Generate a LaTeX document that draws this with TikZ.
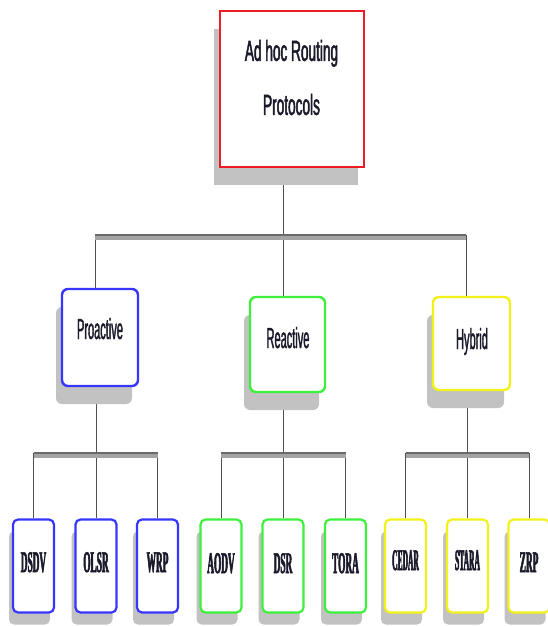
\documentclass[tikz,border=0pt]{standalone}
\usepackage{fontspec}
\usetikzlibrary{shadows}
\newfontfamily\rootfont[FakeStretch=0.47,FakeBold=1.6]{Liberation Sans}
\newfontfamily\midfont[FakeStretch=0.38,FakeBold=1.2]{Liberation Sans}
\newfontfamily\leaffont[FakeStretch=0.31,FakeBold=1.8]{Liberation Serif Bold}
\newfontfamily\leaffontn[FakeStretch=0.25,FakeBold=1.8]{Liberation Serif Bold}
\definecolor{cred}{HTML}{EE1C24}
\definecolor{cblue}{HTML}{3636FF}
\definecolor{cgreen}{HTML}{3CF03C}
\definecolor{cyellow}{HTML}{F2F21A}
\definecolor{shadowgray}{HTML}{C2C2C2}
\definecolor{barlight}{HTML}{A4A4A4}
\definecolor{bardark}{HTML}{6A6A6A}
\definecolor{vlinecol}{HTML}{505050}
\definecolor{txt}{HTML}{1A1A2A}
\pgfdeclarelayer{bg}
\pgfsetlayers{bg,main}
\tikzset{
  rootbox/.style={rectangle, draw=cred, line width=2.4pt, fill=white,
    minimum width=144pt, minimum height=156pt, inner sep=0pt,
    drop shadow={shadow xshift=-6pt, shadow yshift=-18pt, fill=shadowgray, opacity=1}},
  midbox/.style={rectangle, rounded corners=6pt, line width=2.4pt, fill=white,
    minimum height=95pt, inner sep=0pt,
    drop shadow={shadow xshift=-6pt, shadow yshift=-18pt, fill=shadowgray, opacity=1}},
  leafbox/.style={rectangle, rounded corners=5pt, line width=2.2pt, fill=white,
    minimum width=41pt, minimum height=93pt, inner sep=0pt,
    drop shadow={shadow xshift=-4pt, shadow yshift=-12pt, fill=shadowgray, opacity=1}},
  roottext/.style={align=center, text=txt, inner sep=0pt,
    font=\fontsize{29}{54}\selectfont\rootfont},
  midtext/.style={anchor=base, text=txt, inner sep=0pt,
    font=\fontsize{29}{34}\selectfont\midfont},
  leaftext/.style={anchor=base, text=txt, inner sep=0pt,
    font=\fontsize{30}{34}\selectfont\leaffont},
  leaftextn/.style={anchor=base, text=txt, inner sep=0pt,
    font=\fontsize{30}{34}\selectfont\leaffontn},
  bar/.style={draw=bardark, line width=1.2pt,
    preaction={draw=barlight, line width=5pt, transform canvas={yshift=-2.2pt}}},
  vline/.style={draw=vlinecol, line width=1pt}
}
\begin{document}
\begin{tikzpicture}[x=1pt, y=-1pt]
\useasboundingbox (0,0) rectangle (547,626);

% boxes
\node[rootbox] (root) at (292,89) {};
\node[roottext] (rootT) at (291.5,77.5) {Ad hoc Routing\\Protocols};

\node[midbox, draw=cblue, minimum width=76pt, minimum height=97pt] (pro) at (100,337.5) {};
\node[midbox, draw=cgreen, minimum width=75pt] (rea) at (287.5,344.5) {};
\node[midbox, draw=cyellow, minimum width=77pt, minimum height=93pt] (hyb) at (471.5,343.5) {};
\node[midtext] (proT) at (100,339) {Proactive};
\node[midtext] (reaT) at (288,348) {Reactive};
\node[midtext] (hybT) at (472,349) {Hybrid};

\node[leafbox, draw=cblue] (dsdv) at (33.5,566) {};
\node[leafbox, draw=cblue] (olsr) at (96,566) {};
\node[leafbox, draw=cblue] (wrp) at (157.5,566) {};
\node[leafbox, draw=cgreen] (aodv) at (221,566) {};
\node[leafbox, draw=cgreen] (dsr) at (283,566) {};
\node[leafbox, draw=cgreen] (tora) at (345.5,566) {};
\node[leafbox, draw=cyellow] (cedar) at (405.5,566) {};
\node[leafbox, draw=cyellow] (stara) at (467.5,566) {};
\node[leafbox, draw=cyellow] (zrp) at (529,566) {};

\node[leaftext] (dsdvT) at (33.5,572) {DSDV};
\node[leaftext] (olsrT) at (96,572) {OLSR};
\node[leaftext] (wrpT) at (157.5,572) {WRP};
\node[leaftext] (aodvT) at (221,573) {AODV};
\node[leaftext] (dsrT) at (283,573) {DSR};
\node[leaftext] (toraT) at (345.5,573) {TORA};
\node[leaftextn] (cedarT) at (405.5,570) {CEDAR};
\node[leaftextn] (staraT) at (467.5,570) {STARA};
\node[leaftext] (zrpT) at (529,572) {ZRP};

\coordinate (b1) at (0,235);
\coordinate (b2) at (0,453);

\begin{pgfonlayer}{bg}
  \fill[white] (0,0) rectangle (547,626);
  % level 1
  \draw[vline] ([xshift=-9pt]root.south) -- ([xshift=-9pt]root.south |- rea.north);
  \draw[vline] ([xshift=-5pt]pro.north |- b1) -- ([xshift=-5pt]pro.north);
  \draw[vline] ([xshift=-5.5pt]hyb.north |- b1) -- ([xshift=-5.5pt]hyb.north);
  \draw[bar] ([xshift=-5pt]pro.north |- b1) -- ([xshift=-5.5pt]hyb.north |- b1);
  % proactive group
  \draw[vline] ([xshift=-4pt]pro.south) -- (olsr.north);
  \draw[vline] (dsdv.north |- b2) -- (dsdv.north);
  \draw[vline] (wrp.north |- b2) -- (wrp.north);
  \draw[bar] (dsdv.north |- b2) -- (wrp.north |- b2);
  % reactive group
  \draw[vline] ([xshift=-4.5pt]rea.south) -- (dsr.north);
  \draw[vline] (aodv.north |- b2) -- (aodv.north);
  \draw[vline] (tora.north |- b2) -- (tora.north);
  \draw[bar] (aodv.north |- b2) -- (tora.north |- b2);
  % hybrid group
  \draw[vline] ([xshift=-4pt]hyb.south) -- (stara.north);
  \draw[vline] (cedar.north |- b2) -- (cedar.north);
  \draw[vline] (zrp.north |- b2) -- (zrp.north);
  \draw[bar] (cedar.north |- b2) -- (zrp.north |- b2);
\end{pgfonlayer}
\end{tikzpicture}
\end{document}
